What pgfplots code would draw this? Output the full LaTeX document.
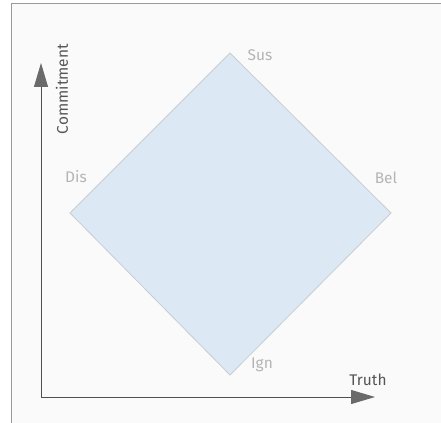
\documentclass[border=0pt]{standalone}
\usepackage{pgfplots}
\pgfplotsset{compat=1.18}
\usepackage{fontspec}
\setmainfont{Fira Sans}
\usetikzlibrary{arrows.meta}
\definecolor{bgc}{HTML}{FAFAFA}
\definecolor{framec}{HTML}{9A9A9A}
\definecolor{fillc}{HTML}{DCE8F3}
\definecolor{edgec}{HTML}{C8CDD2}
\definecolor{lblc}{HTML}{B4B4B4}
\definecolor{titc}{HTML}{555555}
\definecolor{axc}{HTML}{505050}
\definecolor{headc}{HTML}{6A6A6A}
\begin{document}
\begin{tikzpicture}
\begin{axis}[
  width=441bp, height=423bp, scale only axis,
  xmin=0, xmax=441, ymin=0, ymax=423,
  hide axis, clip=true,
]
% background and frame
\fill[white] (axis cs:0,0) rectangle (axis cs:441,423);
\fill[bgc] (axis cs:11,0) rectangle (axis cs:441,419);
\addplot[framec, line width=1bp] coordinates {(11,0) (11,419) (441,419)};
% diamond
\addplot[fill=fillc, draw=edgec, line width=0.8bp] coordinates {(230,370) (391,210) (230,48) (70,210)} -- cycle;
% axes
\addplot[axc, line width=0.9bp, -{Triangle[length=24bp,width=14bp,color=headc]}] coordinates {(41,26) (41,360)};
\addplot[axc, line width=0.9bp, -{Triangle[length=24bp,width=14bp,color=headc]}] coordinates {(41,26) (375,26)};
% labels
\node[lblc, font=\fontsize{15.5}{17}\selectfont] at (axis cs:260,368) {Sus};
\node[lblc, font=\fontsize{15.5}{17}\selectfont] at (axis cs:76,246) {Dis};
\node[lblc, font=\fontsize{15.5}{17}\selectfont] at (axis cs:386,245) {Bel};
\node[lblc, font=\fontsize{15.5}{17}\selectfont] at (axis cs:262,58) {Ign};
\node[titc, font=\fontsize{15.5}{17}\selectfont] at (axis cs:368,43) {Truth};
\node[titc, font=\fontsize{15.5}{17}\selectfont, rotate=90] at (axis cs:62,334) {Commitment};
\end{axis}
\end{tikzpicture}
\end{document}
